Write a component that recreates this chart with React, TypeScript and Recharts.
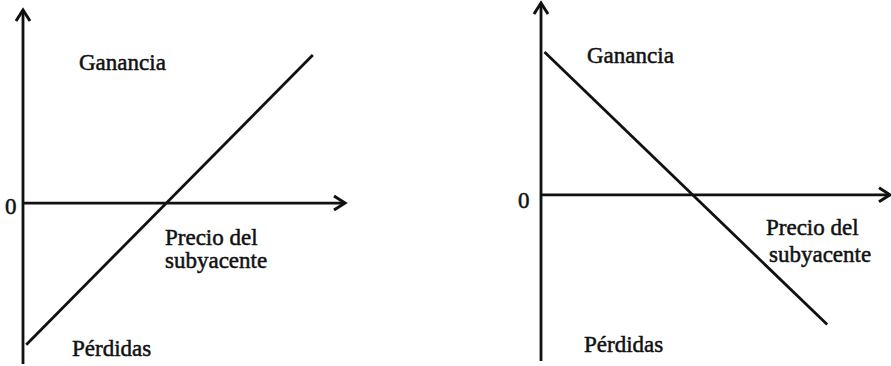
import { LineChart, Line, XAxis, YAxis, ReferenceLine } from 'recharts'

// long call / long put style payoff diagrams
const CALL_PRICE = [0.1, 9.0]
const CALL_PAYOFF = [-4.4, 4.6]
const PUT_PRICE = [0.1, 8.2]
const PUT_PAYOFF = [4.47, -4.06]

const Y_LABEL_TOP = 'Ganancia'
const Y_LABEL_BOTTOM = 'Pérdidas'
const X_LABEL = ['Precio del', 'subyacente']

const callData = CALL_PRICE.map((p, i) => ({ p, v: CALL_PAYOFF[i] }))
const putData = PUT_PRICE.map((p, i) => ({ p, v: PUT_PAYOFF[i] }))

const INK = '#111'
const FONT = '"Liberation Serif", "Times New Roman", serif'

// axis line with an arrow head on the right / top end
const ArrowAxis = (props: any) => {
  const { x1, y1, x2, y2 } = props
  let sx = x1, sy = y1, ex = x2, ey = y2
  const horizontal = Math.abs(y1 - y2) < Math.abs(x1 - x2)
  if ((horizontal && x1 > x2) || (!horizontal && y1 < y2)) {
    sx = x2; sy = y2; ex = x1; ey = y1
  }
  const len = 11
  const half = 7
  const arrow = horizontal
    ? `M${ex - len},${ey - half} L${ex},${ey} L${ex - len},${ey + half}`
    : `M${ex - half},${ey + len} L${ex},${ey} L${ex + half},${ey + len}`
  return (
    <g>
      <line x1={sx} y1={sy} x2={ex} y2={ey} stroke={INK} strokeWidth={2.8} />
      <path d={arrow} fill="none" stroke={INK} strokeWidth={3} strokeLinejoin="miter" />
    </g>
  )
}

function Payoff({ data, width, height, margin, yDomain }: any) {
  return (
    <LineChart width={width} height={height} data={data} margin={margin}>
      <XAxis type="number" dataKey="p" domain={[0, 10]} hide allowDataOverflow />
      <YAxis type="number" domain={yDomain} hide allowDataOverflow />
      <ReferenceLine x={0} shape={ArrowAxis} />
      <ReferenceLine y={0} shape={ArrowAxis} />
      <Line type="linear" dataKey="v" stroke={INK} strokeWidth={2.8} dot={false}
            isAnimationActive={false} />
    </LineChart>
  )
}

const txt = { fontFamily: FONT, fontSize: 23, fill: INK, stroke: INK, strokeWidth: 0.5 } as const

export default function App() {
  return (
    <div style={{ position: 'absolute', left: 0, top: 0, width: 891, height: 366, background: '#fff' }}>
      <div style={{ position: 'absolute', left: 0, top: 0 }}>
        <Payoff data={callData} width={360} height={366}
                margin={{ top: 10, right: 15, bottom: 2, left: 23 }} yDomain={[-5, 6]} />
      </div>
      <div style={{ position: 'absolute', left: 480, top: 0 }}>
        <Payoff data={putData} width={411} height={366}
                margin={{ top: 3, right: 1, bottom: 5, left: 61 }} yDomain={[-5.2, 6]} />
      </div>
      <svg width={891} height={366} style={{ position: 'absolute', left: 0, top: 0, pointerEvents: 'none' }}>
        <text x={79} y={70} {...txt}>{Y_LABEL_TOP}</text>
        <text x={5} y={214} {...txt}>0</text>
        <text x={165} y={245} {...txt}>{X_LABEL[0]}</text>
        <text x={165} y={268} {...txt}>{X_LABEL[1]}</text>
        <text x={72} y={356} {...txt}>{Y_LABEL_BOTTOM}</text>

        <text x={587} y={63} {...txt}>{Y_LABEL_TOP}</text>
        <text x={518} y={208} {...txt}>0</text>
        <text x={766} y={235} {...txt}>{X_LABEL[0]}</text>
        <text x={769} y={262} {...txt}>{X_LABEL[1]}</text>
        <text x={584} y={352} {...txt}>{Y_LABEL_BOTTOM}</text>
      </svg>
    </div>
  )
}
